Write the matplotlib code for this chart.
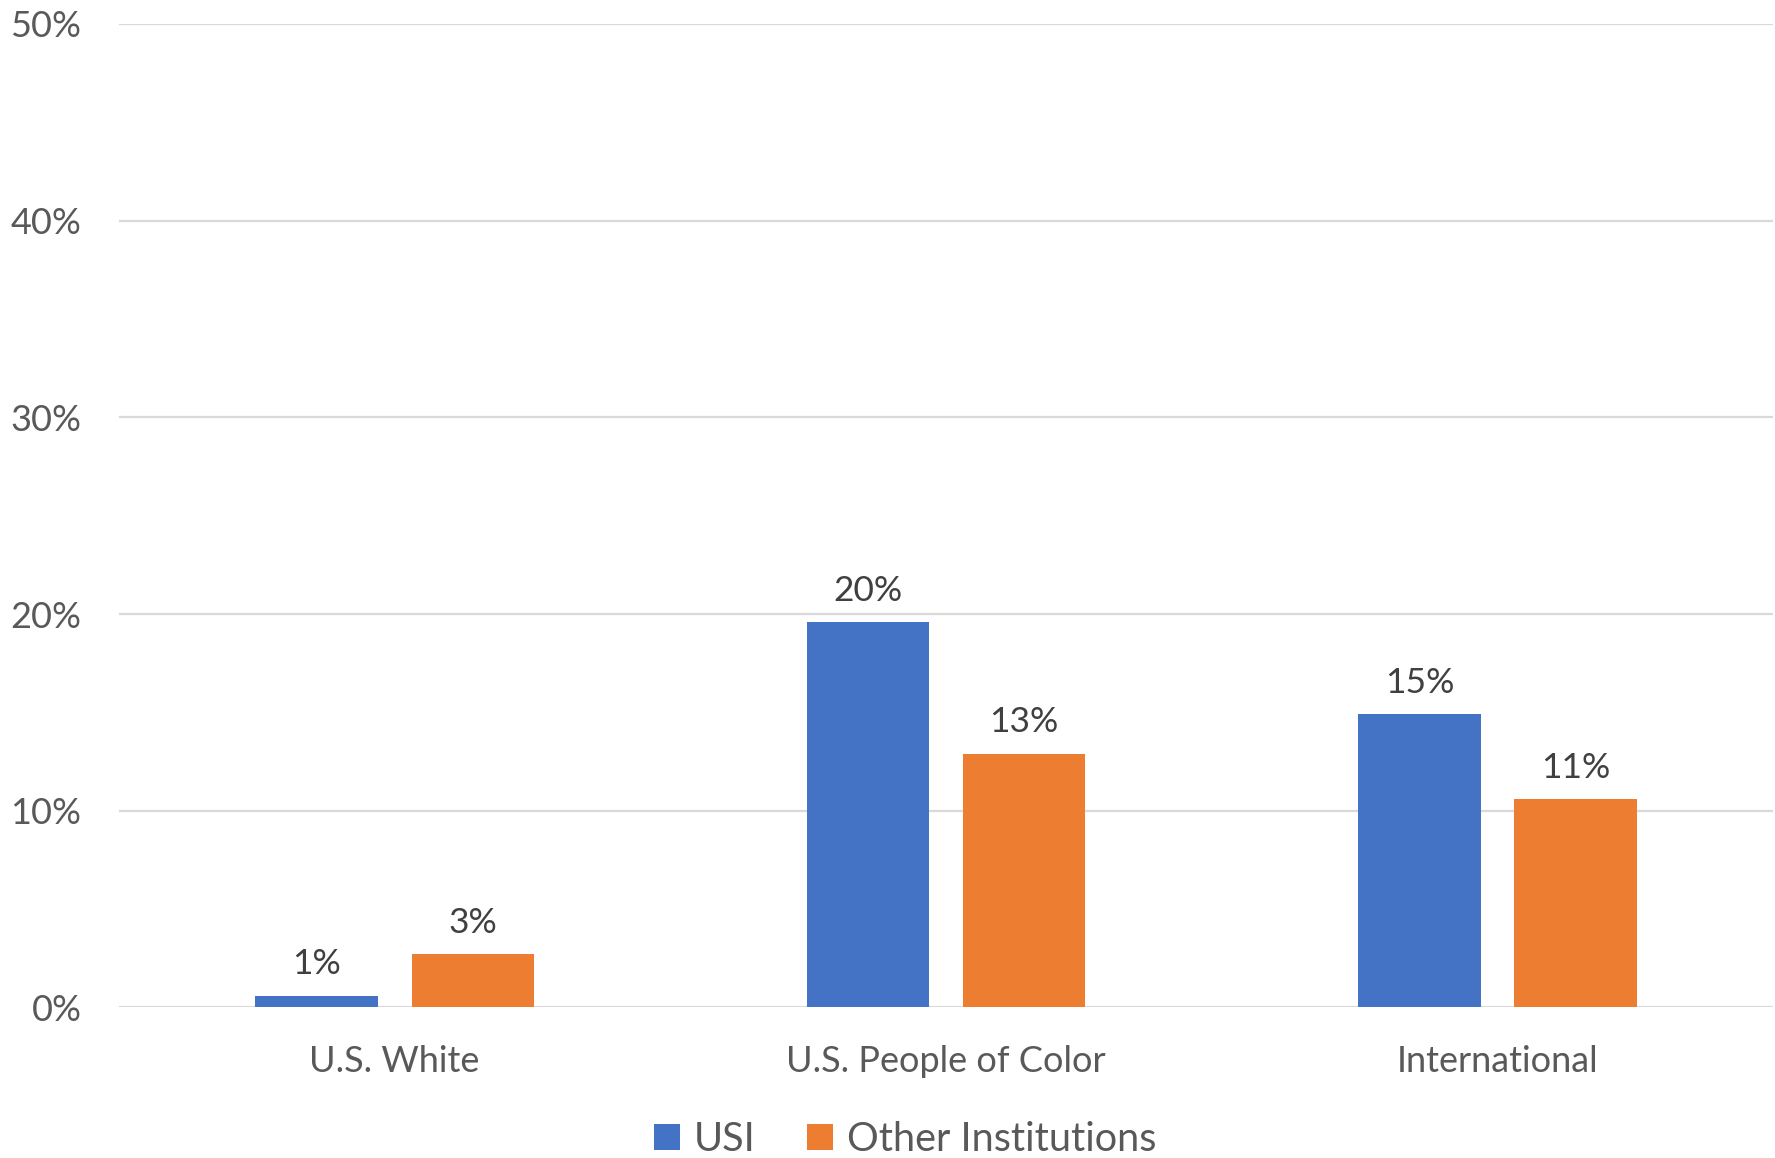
import matplotlib
matplotlib.use("Agg")
import matplotlib.pyplot as plt
import numpy as np
from matplotlib.ticker import PercentFormatter

plt.rcParams['font.family'] = ['Lato', 'DejaVu Sans']

categories = ["U.S. White", "U.S. People of Color", "International"]
usi = [0.006, 0.196, 0.149]
other = [0.027, 0.129, 0.106]
series_names = ["USI", "Other Institutions"]
yticks = [0, 0.1, 0.2, 0.3, 0.4, 0.5]

blue = "#4472C4"
orange = "#ED7D31"
grid_col = "#D9D9D9"

fig = plt.figure(figsize=(17.75, 11.58), dpi=100)
ax = fig.add_axes([0.067, 0.130, 0.932, 0.8494])

x = np.arange(len(categories))
w = 0.222
off = 0.1417
b1 = ax.bar(x - off, usi, w, color=blue, label=series_names[0], zorder=3)
b2 = ax.bar(x + off, other, w, color=orange, label=series_names[1], zorder=3)

# value labels above each bar
for bars, vals in [(b1, usi), (b2, other)]:
    for rect, v in zip(bars, vals):
        ax.annotate(f"{v:.0%}", (rect.get_x() + rect.get_width() / 2, v),
                    xytext=(0, 11), textcoords="offset points",
                    ha="center", va="bottom", fontsize=25.5, color="#404040")

ax.set_xlim(-0.5, 2.5)
ax.set_ylim(0, 0.5)
ax.set_yticks(yticks)
ax.yaxis.set_major_formatter(PercentFormatter(1.0, decimals=0))
ax.set_xticks(x)
ax.set_xticklabels(categories)
ax.tick_params(axis="both", length=0, labelsize=26, labelcolor="#595959")
ax.tick_params(axis="x", pad=27)
ax.tick_params(axis="y", pad=27)

ax.grid(axis="y", color=grid_col, linewidth=1.6, zorder=0)
for s in ax.spines.values():
    s.set_visible(False)

fig.legend(handles=[b1, b2], labels=series_names, loc="center",
           bbox_to_anchor=(0.51, 0.016), ncol=2, frameon=False,
           fontsize=28.5, labelcolor="#595959", handlelength=0.65,
           handleheight=0.65, handletextpad=0.35, columnspacing=1.3)

fig.savefig("out.png", dpi=100, facecolor="white")
